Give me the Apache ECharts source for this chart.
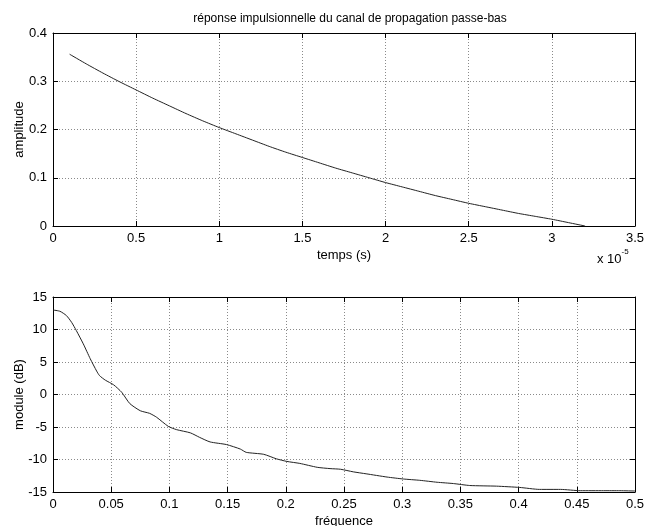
<!DOCTYPE html>
<html>
<head>
<meta charset="utf-8">
<script src="https://cdn.jsdelivr.net/npm/echarts@6/dist/echarts.min.js"></script>
<style>
  html, body { margin: 0; padding: 0; background: #fff; }
  #chart { width: 647px; height: 526px; }
</style>
</head>
<body>
<div id="chart"></div>
<script>
// Impulse response: time in units of 1e-5 s, amplitude
const timeE5 = [0.1, 0.2, 0.3, 0.4, 0.5, 0.6, 0.7, 0.8, 0.9, 1.0, 1.1, 1.2, 1.3, 1.4, 1.5, 1.6,
  1.7, 1.8, 1.9, 2.0, 2.1, 2.2, 2.3, 2.4, 2.5, 2.6, 2.7, 2.8, 2.9, 3.0, 3.1, 3.2];
const amplitude = [0.356, 0.336, 0.317, 0.299, 0.282, 0.265, 0.249, 0.233, 0.218, 0.204, 0.191,
  0.178, 0.165, 0.153, 0.142, 0.131, 0.120, 0.110, 0.100, 0.090, 0.081, 0.072, 0.063, 0.055,
  0.047, 0.040, 0.033, 0.026, 0.020, 0.014, 0.007, 0.000];

// Frequency response magnitude (dB) versus normalised frequency
const frequency = [0, 0.006, 0.0115, 0.016, 0.020, 0.026, 0.032, 0.0375, 0.040, 0.045, 0.052,
  0.059, 0.066, 0.075, 0.083, 0.089, 0.099, 0.106, 0.118, 0.126, 0.135, 0.149, 0.161, 0.166,
  0.181, 0.192, 0.201, 0.212, 0.227, 0.238, 0.247, 0.258, 0.269, 0.287, 0.301, 0.315, 0.330,
  0.344, 0.358, 0.381, 0.401, 0.418, 0.436, 0.453, 0.473, 0.487, 0.5];
const moduleDb = [13.0, 12.8, 12.15, 11.1, 9.85, 7.8, 5.5, 3.6, 2.9, 2.2, 1.5, 0.35, -1.4,
  -2.5, -2.9, -3.5, -4.9, -5.4, -5.9, -6.6, -7.3, -7.7, -8.4, -8.9, -9.2, -9.9, -10.3, -10.6,
  -11.2, -11.4, -11.5, -11.9, -12.2, -12.7, -13.0, -13.2, -13.5, -13.7, -14.0, -14.1, -14.3,
  -14.6, -14.6, -14.8, -14.8, -14.8, -14.85];

const topTicks = { min: 0, max: 3.5, interval: 0.5 };
const topYTicks = { min: 0, max: 0.4, interval: 0.1 };
const botTicks = { min: 0, max: 0.5, interval: 0.05 };
const botYTicks = { min: -15, max: 15, interval: 5 };

const FONT = '"Liberation Sans", Arial, Helvetica, sans-serif';
const FS = 13;

const chart = echarts.init(document.getElementById('chart'), null, { renderer: 'canvas' });

const fmt = v => String(+v.toFixed(2));

function mainAxis(range, extra) {
  return Object.assign({
    type: 'value',
    min: range.min, max: range.max, interval: range.interval,
    axisLine: { show: true, onZero: false, lineStyle: { color: '#000', width: 1 } },
    axisTick: { show: true, inside: true, length: 5, lineStyle: { color: '#000' } },
    axisLabel: { color: '#000', fontFamily: FONT, fontSize: FS, margin: 6, formatter: fmt },
    splitLine: { show: true, lineStyle: { color: '#8a8a8a', type: [1, 2], width: 1 } },
    nameMoveOverlap: false,
    nameTextStyle: { color: '#000', fontFamily: FONT, fontSize: FS }
  }, extra);
}
function mirrorAxis(range, extra) {
  return Object.assign({
    type: 'value',
    min: range.min, max: range.max, interval: range.interval,
    axisLine: { show: true, onZero: false, lineStyle: { color: '#000', width: 1 } },
    axisTick: { show: true, inside: true, length: 5, lineStyle: { color: '#000' } },
    axisLabel: { show: false },
    splitLine: { show: false }
  }, extra);
}

chart.setOption({
  animation: false,
  backgroundColor: '#fff',
  title: {
    text: 'réponse impulsionnelle du canal de propagation passe-bas',
    left: 345, top: 8, textAlign: 'center',
    textStyle: { color: '#000', fontFamily: FONT, fontSize: 12, fontWeight: 'normal' }
  },
  grid: [
    { left: 53, top: 33, width: 582, height: 193, show: false, outerBoundsMode: 'none', containLabel: false },
    { left: 53, top: 297, width: 582, height: 195, show: false, outerBoundsMode: 'none', containLabel: false }
  ],
  xAxis: [
    mainAxis(topTicks, { gridIndex: 0, position: 'bottom', name: 'temps (s)',
      nameLocation: 'middle', nameGap: 23 }),
    mirrorAxis(topTicks, { gridIndex: 0, position: 'top' }),
    mainAxis(botTicks, { gridIndex: 1, position: 'bottom', name: 'fréquence',
      nameLocation: 'middle', nameGap: 23 }),
    mirrorAxis(botTicks, { gridIndex: 1, position: 'top' })
  ],
  yAxis: [
    mainAxis(topYTicks, { gridIndex: 0, position: 'left', name: 'amplitude',
      nameLocation: 'middle', nameGap: 27 }),
    mirrorAxis(topYTicks, { gridIndex: 0, position: 'right' }),
    mainAxis(botYTicks, { gridIndex: 1, position: 'left', name: 'module (dB)',
      nameLocation: 'middle', nameGap: 27 }),
    mirrorAxis(botYTicks, { gridIndex: 1, position: 'right' })
  ],
  graphic: [{
    type: 'text',
    left: 597, top: 248,
    style: {
      text: '{b|x 10}{s|-5}',
      rich: {
        b: { fontFamily: FONT, fontSize: FS, fill: '#000', verticalAlign: 'bottom', lineHeight: 18 },
        s: { fontFamily: FONT, fontSize: 8, fill: '#000', verticalAlign: 'top', lineHeight: 18, padding: [0, 0, 10, 0] }
      }
    }
  }],
  series: [
    {
      type: 'line', xAxisIndex: 0, yAxisIndex: 0,
      data: timeE5.map((t, i) => [t, amplitude[i]]),
      showSymbol: false, smooth: 0.2,
      lineStyle: { color: '#222', width: 1 }
    },
    {
      type: 'line', xAxisIndex: 2, yAxisIndex: 2,
      data: frequency.map((f, i) => [f, moduleDb[i]]),
      showSymbol: false, smooth: 0.2,
      lineStyle: { color: '#222', width: 1 }
    }
  ]
});
</script>
</body>
</html>
